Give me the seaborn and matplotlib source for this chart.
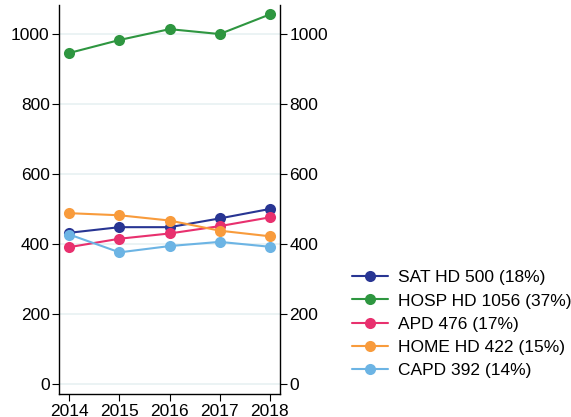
import numpy as np
import pandas as pd
import matplotlib
matplotlib.use("Agg")
import matplotlib.pyplot as plt
import seaborn as sns

years = [2014, 2015, 2016, 2017, 2018]
sat_hd = [432, 448, 448, 473, 500]
hosp_hd = [946, 983, 1014, 1000, 1056]
apd = [391, 415, 430, 451, 476]
home_hd = [488, 482, 467, 438, 422]
capd = [427, 376, 394, 406, 392]
series_names = ["SAT HD 500 (18%)", "HOSP HD 1056 (37%)", "APD 476 (17%)",
                "HOME HD 422 (15%)", "CAPD 392 (14%)"]
colors = ["#283593", "#2e9640", "#e8306e", "#f89b3c", "#6cb4e4"]
yticks = [0, 200, 400, 600, 800, 1000]

rows = []
for name, vals in zip(series_names, [sat_hd, hosp_hd, apd, home_hd, capd]):
    for y, v in zip(years, vals):
        rows.append({"year": y, "value": v, "series": name})
df = pd.DataFrame(rows)

sns.set_theme(style="white")
plt.rcParams['font.family'] = ['Liberation Sans', 'DejaVu Sans']
plt.rcParams['text.color'] = 'black'

FS = 12.5
fig = plt.figure(figsize=(5.71, 4.17), dpi=100)
ax = fig.add_axes([0.104, 0.055, 0.386, 0.933])

for y in yticks:
    ax.axhline(y, color="#e8f1f2", lw=1.2, zorder=0)

sns.lineplot(data=df, x="year", y="value", hue="series", hue_order=series_names,
             palette=colors, marker="o", markersize=8, markeredgewidth=0,
             linewidth=1.5, ax=ax, legend=True)

ax.set_xlim(2013.8, 2018.2)
ax.set_ylim(-29, 1083)
ax.set_xticks(years)
ax.set_yticks(yticks)
ax.set_xlabel("")
ax.set_ylabel("")
ax.spines["top"].set_visible(False)
ax.spines["right"].set_visible(False)
for s in ["left", "bottom"]:
    ax.spines[s].set_color("black")
    ax.spines[s].set_linewidth(1.0)
ax.tick_params(axis="both", which="both", direction="out", length=5, width=0.8,
               colors="black", labelsize=FS, left=True, bottom=True, pad=2)

ax2 = ax.twinx()
ax2.set_ylim(ax.get_ylim())
ax2.set_yticks(yticks)
ax2.spines["top"].set_visible(False)
ax2.spines["right"].set_color("black")
ax2.spines["right"].set_linewidth(1.0)
ax2.spines["left"].set_visible(False)
ax2.spines["bottom"].set_visible(False)
ax2.tick_params(axis="y", direction="out", length=5, width=0.8, colors="black",
                labelsize=FS, right=True, pad=2)

handles, labels = ax.get_legend_handles_labels()
ax.legend_.remove()
leg = fig.legend(handles, labels, loc="upper left", bbox_to_anchor=(0.616, 0.352),
                 frameon=False, fontsize=FS, handlelength=2.07, labelspacing=0.46,
                 handletextpad=0.57, borderaxespad=0, borderpad=0)
for t in leg.get_texts():
    t.set_color("black")

fig.savefig("out.png", dpi=100)
